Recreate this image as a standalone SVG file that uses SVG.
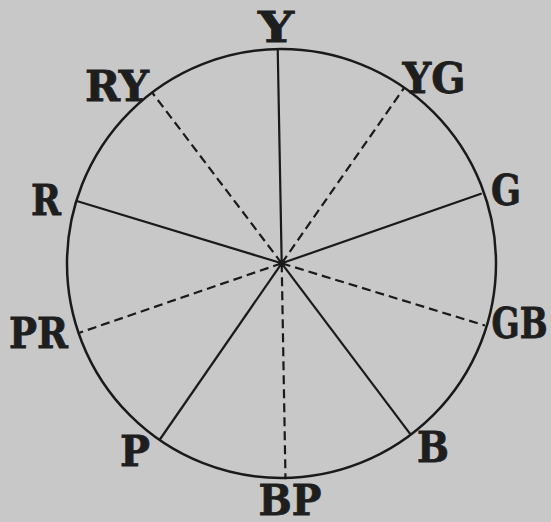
<svg xmlns="http://www.w3.org/2000/svg" width="551" height="522" viewBox="0 0 551 522">
<style>
.lbl{font-family:"DejaVu Serif","Liberation Serif",serif;font-weight:bold;font-size:43px;fill:#1e1e1e;stroke:#1e1e1e;stroke-width:0.8;text-anchor:middle}
.sp{stroke:#1a1a1a;stroke-width:2.2;fill:none}
.ds{stroke:#1a1a1a;stroke-width:2.2;fill:none;stroke-dasharray:9 5}
</style>
<rect width="551" height="522" fill="#c8c8c8"/>
<g id="wheel">
<circle cx="281.5" cy="263.5" r="214.5" fill="none" stroke="#1a1a1a" stroke-width="2.5"/>
</g>
<g id="connectors">
<line class="sp" x1="281.7" y1="263.3" x2="277.7" y2="48"/>
<line class="ds" x1="281.7" y1="263.3" x2="404" y2="88"/>
<line class="sp" x1="281.7" y1="263.3" x2="481.7" y2="193.5"/>
<line class="ds" x1="281.7" y1="263.3" x2="485" y2="325.5"/>
<line class="sp" x1="281.7" y1="263.3" x2="410.5" y2="434.3"/>
<line class="ds" x1="281.7" y1="263.3" x2="285.5" y2="479.3"/>
<line class="sp" x1="281.7" y1="263.3" x2="159.5" y2="440"/>
<line class="ds" x1="281.7" y1="263.3" x2="79.5" y2="332.7"/>
<line class="sp" x1="281.7" y1="263.3" x2="76.7" y2="201"/>
<line class="ds" x1="281.7" y1="263.3" x2="152.5" y2="93"/>
<circle cx="281.7" cy="263.3" r="3.5" fill="#1a1a1a"/>
</g>
<g id="Y"><text class="lbl" x="276" y="42" textLength="36" lengthAdjust="spacingAndGlyphs">Y</text></g>
<g id="YG"><text class="lbl" x="434" y="93" textLength="63" lengthAdjust="spacingAndGlyphs">YG</text></g>
<g id="G"><text class="lbl" x="506" y="205" textLength="30" lengthAdjust="spacingAndGlyphs">G</text></g>
<g id="GB"><text class="lbl" x="519.5" y="338" textLength="56" lengthAdjust="spacingAndGlyphs">GB</text></g>
<g id="B"><text class="lbl" x="433" y="462" textLength="32" lengthAdjust="spacingAndGlyphs">B</text></g>
<g id="BP"><text class="lbl" x="290" y="515" textLength="63" lengthAdjust="spacingAndGlyphs">BP</text></g>
<g id="P"><text class="lbl" x="135" y="466" textLength="30" lengthAdjust="spacingAndGlyphs">P</text></g>
<g id="PR"><text class="lbl" x="38.5" y="348" textLength="59" lengthAdjust="spacingAndGlyphs">PR</text></g>
<g id="R"><text class="lbl" x="46" y="215" textLength="30" lengthAdjust="spacingAndGlyphs">R</text></g>
<g id="RY"><text class="lbl" x="117" y="101" textLength="64" lengthAdjust="spacingAndGlyphs">RY</text></g>
</svg>
